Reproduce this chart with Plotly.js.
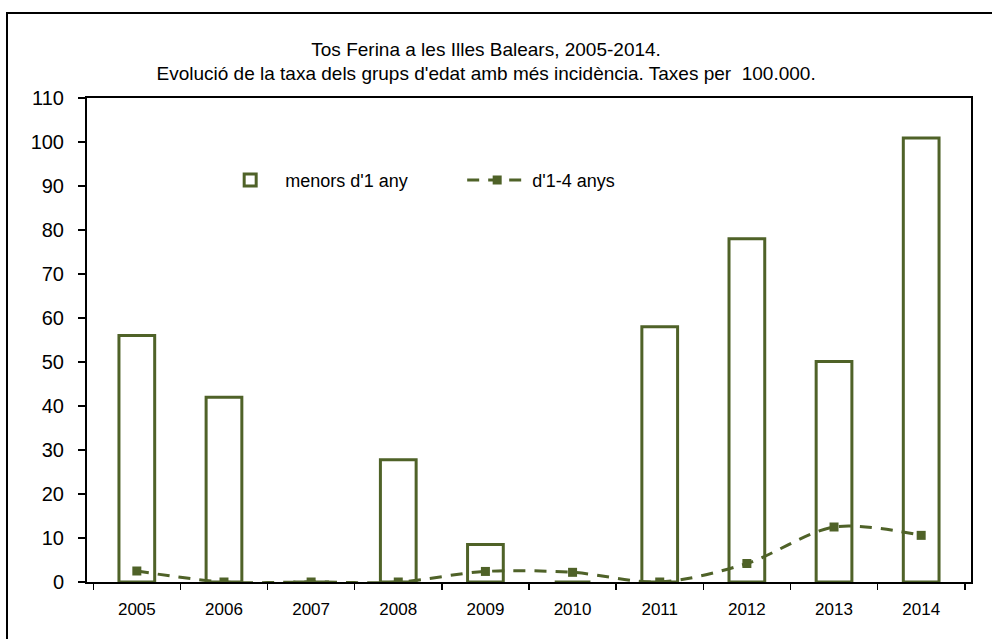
<!DOCTYPE html>
<html>
<head>
<meta charset="utf-8">
<script src="https://cdn.plot.ly/plotly-3.0.1.min.js"></script>
<style>
html,body{margin:0;padding:0;background:#fff;}
#chart{width:992px;height:639px;}
</style>
</head>
<body>
<div id="chart"></div>
<script>
const years = ['2005','2006','2007','2008','2009','2010','2011','2012','2013','2014'];
const menors1 = [56.0, 42.0, 0, 27.8, 8.5, 0, 58.0, 78.0, 50.1, 100.9];
const anys1a4 = [2.5, 0, 0, 0, 2.4, 2.2, 0, 4.2, 12.5, 10.6];
const titleLines = ['Tos Ferina a les Illes Balears, 2005-2014.', "Evolució de la taxa dels grups d'edat amb més incidència. Taxes per  100.000."];
const seriesNames = ["menors d'1 any", "d'1-4 anys"];
const yTicks = [0,10,20,30,40,50,60,70,80,90,100,110];

const green = '#4F6228';
const font = 'Arial, "Liberation Sans", sans-serif';

const traces = [
  {
    type: 'bar', x: years, y: menors1, name: seriesNames[0],
    width: 0.41,
    marker: {color: '#ffffff', line: {color: green, width: 3}},
    hoverinfo: 'x+y'
  },
  {
    type: 'scatter', mode: 'lines+markers', x: years, y: anys1a4, name: seriesNames[1],
    line: {color: green, width: 3, dash: '12px,9px', shape: 'spline', smoothing: 0.9},
    marker: {symbol: 'square', size: 9, color: green}
  }
];

const layout = {
  width: 992, height: 639,
  paper_bgcolor: '#ffffff', plot_bgcolor: '#ffffff',
  margin: {l: 87, r: 21, t: 98, b: 57},
  font: {family: font, color: '#000'},
  title: {
    text: titleLines.join('<br>'),
    font: {family: font, size: 19, color: '#000'},
    x: 0.49, xref: 'container', xanchor: 'center',
    y: 0.913, yref: 'container', yanchor: 'top'
  },
  showlegend: true,
  legend: {
    orientation: 'h', x: 0.145, xanchor: 'left', y: 0.83, yanchor: 'middle',
    font: {family: font, size: 18, color: '#000'},
    bgcolor: 'rgba(0,0,0,0)', itemwidth: 60, traceorder: 'normal',
    entrywidth: 172, entrywidthmode: 'pixels'
  },
  xaxis: {
    type: 'category', showline: true, linecolor: '#000', linewidth: 2, mirror: true,
    ticks: 'outside', tickson: 'boundaries', ticklen: 6, tickcolor: '#000', tickwidth: 1.5,
    tickfont: {family: font, size: 17, color: '#000'}, ticklabelstandoff: 11,
    showgrid: false, zeroline: false, fixedrange: true
  },
  yaxis: {
    range: [0, 110], tickvals: yTicks, showline: true, linecolor: '#000', linewidth: 2, mirror: true,
    ticks: 'outside', ticklen: 7, tickcolor: '#000', tickwidth: 1.5,
    tickfont: {family: font, size: 20, color: '#000'}, ticklabelstandoff: 10,
    showgrid: false, zeroline: false, fixedrange: true
  },
  shapes: [
    {type: 'rect', xref: 'paper', yref: 'paper', x0: -0.0905, x1: 1.05, y0: -0.15, y1: 1.1756,
     line: {color: '#000', width: 2}, fillcolor: 'rgba(0,0,0,0)', layer: 'below'}
  ]
};

Plotly.newPlot('chart', traces, layout, {displayModeBar: false, staticPlot: true});
</script>
</body>
</html>
